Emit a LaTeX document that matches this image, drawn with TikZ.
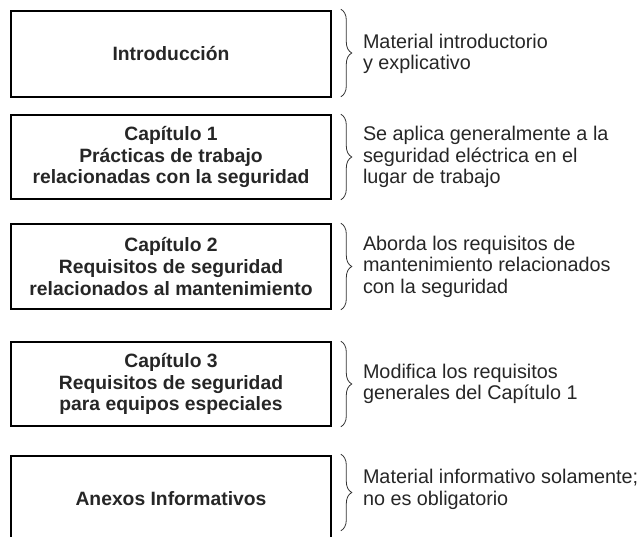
\documentclass[tikz,border=0pt]{standalone}
\usepackage{fontspec}
\setmainfont{Liberation Sans}
\usepackage{tikz}
\usetikzlibrary{decorations.pathreplacing,positioning}

\tikzset{
	chapter/.style={draw, line width=1.6bp, minimum width=320bp, minimum height=85bp,
		inner sep=0pt, align=center, text=black!85,
		font=\fontsize{19.3bp}{21.8bp}\selectfont\bfseries},
	scopebrace/.style={decorate, decoration={brace, amplitude=11bp}, line width=0.8bp, black!80},
	note/.style={align=left, inner sep=0pt, text=black!85,
		font=\fontsize{19.8bp}{21.5bp}\selectfont}
}

\begin{document}
\begin{tikzpicture}
	\clip (0bp,0bp) rectangle (644bp,537bp);

	\node (intro) at (171bp,483bp)   [chapter, minimum height=86bp] {Introducción};
	\node (cap1)  at (171bp,380bp)   [chapter, minimum height=84bp] {Capítulo 1\\Prácticas de trabajo\\relacionadas con la seguridad};
	\node (cap2)  at (171bp,270.5bp) [chapter]                      {Capítulo 2\\Requisitos de seguridad\\relacionados al mantenimiento};
	\node (cap3)  at (171bp,153bp)   [chapter, minimum height=84bp] {Capítulo 3\\Requisitos de seguridad\\para equipos especiales};
	\node (anex)  at (171bp,38.5bp)  [chapter]                      {Anexos Informativos};

	\node (introtxt) [note, right=31bp of intro.east] {Material introductorio\\y explicativo};
	\node (cap1txt)  [note, right=31bp of cap1.east]  {Se aplica generalmente a la\\seguridad eléctrica en el\\lugar de trabajo};
	\node (cap2txt)  [note, right=31bp of cap2.east]  {Aborda los requisitos de\\mantenimiento relacionados\\con la seguridad};
	\node (cap3txt)  [note, right=31bp of cap3.east]  {Modifica los requisitos\\generales del Capítulo 1};
	\node (anextxt)  [note, right=31bp of anex.east, yshift=9bp] {Material informativo solamente;\\no es obligatorio};

	\draw [scopebrace] ([xshift=9bp,yshift=1bp]intro.north east) -- ([xshift=9bp,yshift=1bp]intro.south east);
	\draw [scopebrace] ([xshift=9bp]cap1.north east) -- ([xshift=9bp]cap1.south east);
	\draw [scopebrace] ([xshift=9bp]cap2.north east) -- ([xshift=9bp]cap2.south east);
	\draw [scopebrace] ([xshift=9bp]cap3.north east) -- ([xshift=9bp]cap3.south east);
	\draw [scopebrace] ([xshift=9bp,yshift=1bp]anex.north east) -- ([xshift=9bp,yshift=11bp]anex.south east);
\end{tikzpicture}
\end{document}
